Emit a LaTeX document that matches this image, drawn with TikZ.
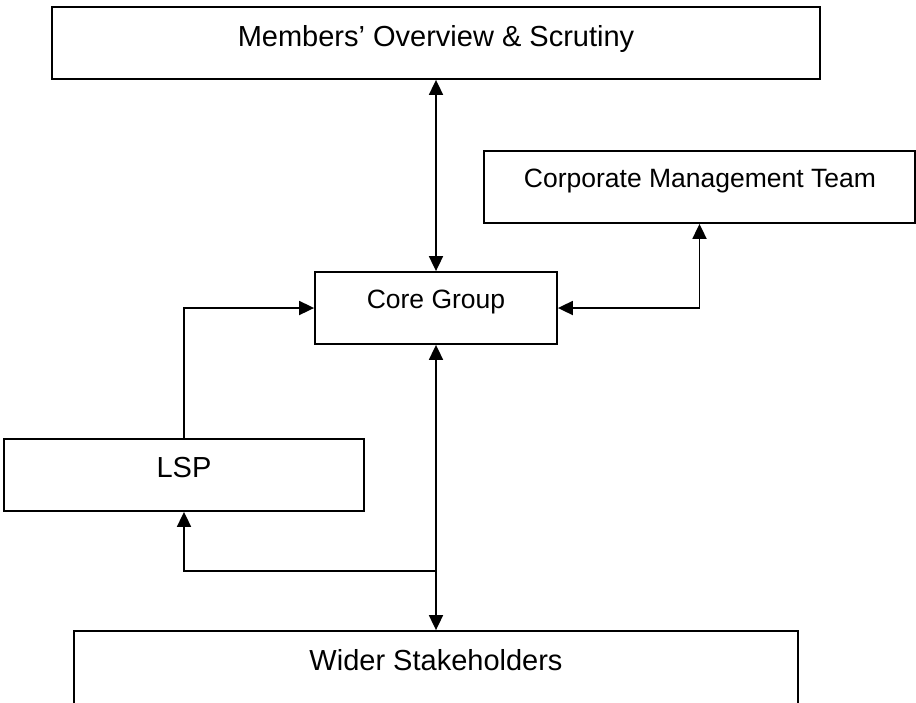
\documentclass[tikz,border=0pt]{standalone}
\usepackage{fontspec}
\setmainfont{Liberation Sans}
\usetikzlibrary{arrows.meta}
\tikzset{
  box/.style={draw=black, line width=1.8pt, rectangle, inner sep=0pt, fill=none},
  lbl/.style={anchor=base, inner sep=0pt, text=black},
  big/.style={font=\fontsize{29}{34}\selectfont},
  small/.style={font=\fontsize{26.5}{31}\selectfont},
  conn/.style={line width=1.8pt, draw=black},
  tip/.style={-{Triangle[length=15pt,width=14pt]}},
  tips/.style={{Triangle[length=15pt,width=14pt]}-{Triangle[length=15pt,width=14pt]}}
}
\begin{document}
\begin{tikzpicture}[x=1pt,y=-1pt]
\clip (0,0) rectangle (916,702);
\fill[white] (0,0) rectangle (916,702);
% boxes
\node[box, minimum width=768pt, minimum height=72pt] (mem) at (436,43) {};
\node[box, minimum width=431pt, minimum height=72pt] (cmt) at (699.5,187) {};
\node[box, minimum width=242pt, minimum height=72pt] (core) at (436,308) {};
\node[box, minimum width=360pt, minimum height=72pt] (lsp) at (184,475) {};
\node[box, minimum width=724pt, minimum height=130pt] (wider) at (436,696) {};
% labels
\node[lbl, big] (memt) at (436,46) {Members’ Overview \& Scrutiny};
\node[lbl, small] (cmtt) at (700,187) {Corporate Management Team};
\node[lbl, small] (coret) at (436,308) {Core Group};
\node[lbl, big] (lspt) at (184,477) {LSP};
\node[lbl, big] (widert) at (436,670) {Wider Stakeholders};
% connectors
\draw[conn, tips] (mem.south) -- (core.north);
\draw[conn, tips] (core.east) -| (cmt.south);
\draw[conn, tip] (lsp.north) |- (core.west);
\draw[conn, tips] (core.south) -- (wider.north);
\coordinate (j) at (436,571);
\draw[conn, tip] (j) -| (lsp.south);
\end{tikzpicture}
\end{document}
